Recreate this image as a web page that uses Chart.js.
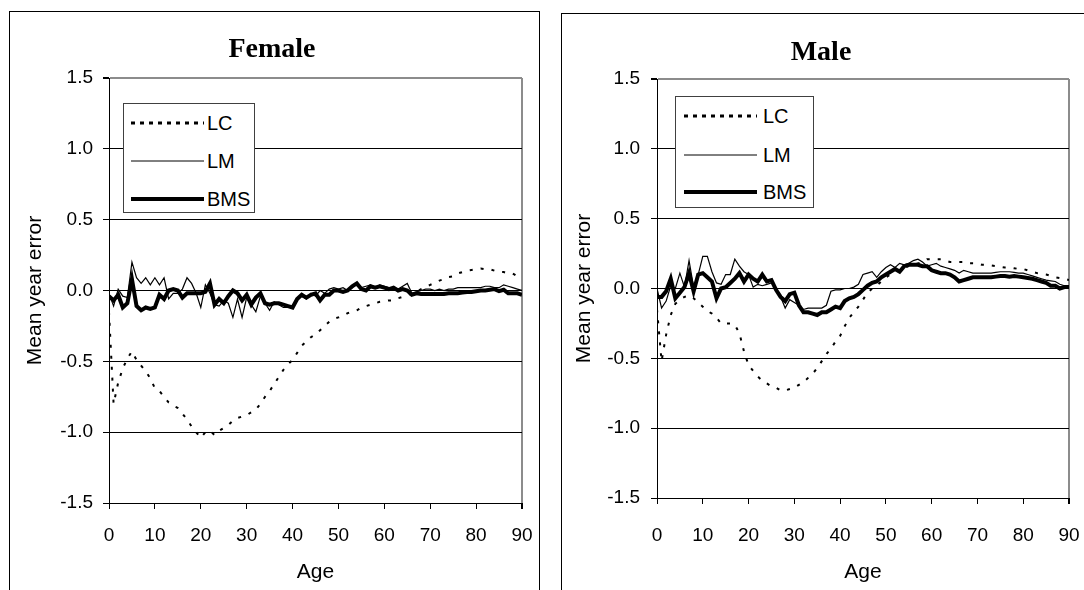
<!DOCTYPE html>
<html>
<head>
<meta charset="utf-8">
<title>Mean year error by age</title>
<script src="https://cdn.jsdelivr.net/npm/chart.js@4.4.1/dist/chart.umd.min.js"></script>
<style>
  html, body { margin: 0; padding: 0; background: #fff; }
  body {
    position: relative; width: 1084px; height: 590px; overflow: hidden;
    font-family: 'Liberation Sans', Arial, sans-serif; color: #000;
  }
  .panel { position: absolute; box-sizing: border-box; border: 1px solid #000; height: 660px; }
  .panel-title {
    position: absolute; transform: translate(-50%, -50%); white-space: nowrap;
    font-family: 'Liberation Serif', 'Times New Roman', serif; font-weight: bold; font-size: 28px;
  }
  canvas { position: absolute; top: 0; }
  .legend { position: absolute; box-sizing: border-box; background: #fff; border: 1px solid #404040; }
  .legend svg { position: absolute; overflow: visible; }
  .legend span { position: absolute; font-size: 20px; line-height: 1; transform: translateY(-50%); }
</style>
</head>
<body>
<div class="panel" style="left:9px; top:11px; width:531px;"></div>
<div class="panel" style="left:561px; top:13px; width:600px;"></div>
<canvas id="chartFemale" width="545" height="590" style="left:0;"></canvas>
<canvas id="chartMale" width="539" height="590" style="left:545px;"></canvas>
<div class="panel-title" style="left:272px; top:48px;">Female</div>
<div class="panel-title" style="left:821px; top:51px;">Male</div>

<script>
(function () {
  'use strict';

  // ── Data ──
  var X_TICKS = [0, 10, 20, 30, 40, 50, 60, 70, 80, 90];
  var Y_TICKS = [-1.5, -1.0, -0.5, 0.0, 0.5, 1.0, 1.5];
  var AGES = [];
  for (var a = 0; a <= 90; a++) AGES.push(a);

  var FEMALE_LC = [
    -0.15, -0.80, -0.65, -0.55, -0.48, -0.43, -0.49, -0.53, -0.57, -0.62,
    -0.69, -0.71, -0.75, -0.79, -0.81, -0.83, -0.87, -0.91, -0.96, -1.00,
    -1.04, -1.00, -0.99, -1.02, -0.99, -0.97, -0.95, -0.92, -0.90, -0.89,
    -0.88, -0.86, -0.84, -0.80, -0.75, -0.71, -0.66, -0.61, -0.56, -0.52,
    -0.49, -0.44, -0.39, -0.36, -0.33, -0.31, -0.28, -0.25, -0.22, -0.20,
    -0.19, -0.18, -0.16, -0.15, -0.14, -0.12, -0.11, -0.10, -0.09, -0.08,
    -0.075, -0.07, -0.07, -0.055, -0.045, -0.035, -0.02, -0.01, 0.01, 0.025,
    0.04, 0.055, 0.07, 0.08, 0.095, 0.10, 0.12, 0.13, 0.14, 0.145,
    0.15, 0.155, 0.15, 0.15, 0.14, 0.13, 0.13, 0.12, 0.12, 0.10,
    0.08
  ];
  var FEMALE_LM = [
    -0.02, -0.11, 0.01, -0.04, -0.05, 0.20, 0.09, 0.05, 0.09, 0.04,
    0.09, 0.04, 0.09, -0.06, -0.02, -0.02, 0.01, 0.09, 0.05, -0.02,
    -0.12, 0.04, -0.02, -0.10, -0.11, -0.07, -0.09, -0.19, -0.06, -0.19,
    -0.05, -0.10, -0.15, -0.04, -0.09, -0.14, -0.08, -0.10, -0.12, -0.12,
    -0.11, -0.06, -0.04, -0.06, -0.02, -0.04, 0.00, -0.02, 0.01, 0.02,
    0.01, 0.02, 0.00, 0.02, 0.05, 0.02, 0.03, 0.04, 0.02, 0.04,
    0.03, 0.02, 0.02, 0.01, 0.03, 0.05, -0.02, -0.01, 0.00, 0.01,
    0.01, 0.00, 0.01, 0.00, 0.01, 0.01, 0.02, 0.02, 0.02, 0.02,
    0.02, 0.02, 0.03, 0.03, 0.02, 0.02, 0.04, 0.03, 0.02, 0.01,
    0.00
  ];
  var FEMALE_BMS = [
    -0.04, -0.07, -0.03, -0.12, -0.09, 0.08, -0.11, -0.14, -0.12, -0.13,
    -0.12, -0.03, -0.06, 0.00, 0.01, 0.00, -0.05, -0.02, -0.02, -0.02,
    -0.02, -0.01, 0.05, -0.10, -0.06, -0.09, -0.04, 0.00, -0.02, -0.07,
    -0.03, -0.10, -0.05, -0.02, -0.09, -0.10, -0.09, -0.09, -0.10, -0.11,
    -0.12, -0.06, -0.03, -0.05, -0.03, -0.02, -0.07, -0.03, -0.03, 0.00,
    0.00, -0.01, 0.00, 0.03, 0.05, 0.01, 0.00, 0.03, 0.02, 0.03,
    0.02, 0.01, 0.02, 0.00, 0.01, 0.00, -0.03, -0.02, -0.025, -0.025,
    -0.025, -0.025, -0.025, -0.025, -0.02, -0.02, -0.02, -0.015, -0.01, -0.01,
    -0.005, 0.00, 0.00, 0.005, 0.01, -0.005, 0.005, -0.02, -0.02, -0.02,
    -0.03
  ];

  var MALE_LC = [
    -0.15, -0.52, -0.33, -0.19, -0.11, -0.08, -0.06, -0.05, -0.07, -0.10,
    -0.13, -0.16, -0.18, -0.21, -0.25, -0.25, -0.25, -0.26, -0.32, -0.45,
    -0.55, -0.59, -0.63, -0.66, -0.68, -0.70, -0.71, -0.73, -0.73, -0.72,
    -0.71, -0.69, -0.67, -0.64, -0.61, -0.57, -0.52, -0.47, -0.43, -0.38,
    -0.34, -0.27, -0.21, -0.17, -0.13, -0.08, -0.03, 0.00, 0.02, 0.05,
    0.08, 0.10, 0.12, 0.14, 0.15, 0.16, 0.17, 0.18, 0.19, 0.21,
    0.21, 0.21, 0.21, 0.20, 0.19, 0.19, 0.19, 0.19, 0.18, 0.18,
    0.18, 0.17, 0.17, 0.165, 0.16, 0.155, 0.15, 0.15, 0.145, 0.14,
    0.14, 0.13, 0.12, 0.11, 0.105, 0.10, 0.09, 0.08, 0.075, 0.07,
    0.06
  ];
  var MALE_LM = [
    0.00, -0.14, -0.09, 0.02, 0.00, 0.11, 0.01, 0.20, 0.01, 0.10,
    0.23, 0.23, 0.12, 0.04, 0.03, 0.10, 0.10, 0.21, 0.16, 0.12,
    0.10, 0.01, 0.03, 0.02, 0.03, 0.04, 0.00, -0.06, -0.14, -0.08,
    -0.10, -0.12, -0.15, -0.14, -0.14, -0.14, -0.14, -0.12, -0.02, -0.01,
    -0.01, 0.00, 0.00, 0.01, 0.03, 0.10, 0.11, 0.12, 0.08, 0.12,
    0.15, 0.17, 0.15, 0.18, 0.17, 0.18, 0.20, 0.21, 0.19, 0.16,
    0.17, 0.18, 0.16, 0.15, 0.14, 0.13, 0.11, 0.13, 0.12, 0.11,
    0.11, 0.11, 0.11, 0.11, 0.115, 0.12, 0.12, 0.12, 0.115, 0.11,
    0.11, 0.10, 0.09, 0.08, 0.07, 0.06, 0.055, 0.05, 0.03, 0.02,
    0.01
  ];
  var MALE_BMS = [
    -0.06, -0.06, -0.02, 0.07, -0.07, -0.03, 0.01, 0.11, -0.02, 0.10,
    0.11, 0.08, 0.05, -0.07, 0.00, 0.01, 0.04, 0.07, 0.11, 0.05,
    0.10, 0.07, 0.05, 0.10, 0.05, 0.06, -0.01, -0.06, -0.09, -0.04,
    -0.03, -0.12, -0.17, -0.17, -0.18, -0.19, -0.17, -0.17, -0.15, -0.13,
    -0.14, -0.09, -0.07, -0.06, -0.04, -0.01, 0.02, 0.04, 0.05, 0.08,
    0.10, 0.12, 0.14, 0.12, 0.16, 0.17, 0.17, 0.17, 0.16, 0.16,
    0.13, 0.12, 0.11, 0.11, 0.10, 0.08, 0.05, 0.06, 0.07, 0.08,
    0.08, 0.08, 0.08, 0.08, 0.085, 0.09, 0.09, 0.085, 0.09, 0.085,
    0.08, 0.075, 0.07, 0.06, 0.05, 0.04, 0.02, 0.02, 0.00, 0.01,
    0.01
  ];

  // ── Series styles (shared by chart and legend) ──
  var SERIES = [
    { label: 'LC',  width: 2,   dash: [3, 8], legendDash: '4 5', legendWidth: 3 },
    { label: 'LM',  width: 1.2, dash: [],     legendDash: '',    legendWidth: 1 },
    { label: 'BMS', width: 4,   dash: [],     legendDash: '',    legendWidth: 4 }
  ];

  Chart.defaults.font.family = "'Liberation Sans', Arial, sans-serif";
  Chart.defaults.color = '#000';

  function toPoints(values) {
    var pts = [];
    for (var i = 0; i < AGES.length; i++) pts.push({ x: AGES[i], y: values[i] });
    return pts;
  }

  function tickSetter(list) {
    return function (scale) {
      scale.ticks = list.map(function (v) { return { value: v }; });
    };
  }

  // ── One panel = one Chart.js instance ──
  function mountPanel(p) {
    var datasets = SERIES.map(function (s, i) {
      return {
        label: s.label,
        data: toPoints(p.series[i]),
        borderColor: '#000',
        borderWidth: s.width,
        borderDash: s.dash,
        pointRadius: 0,
        tension: 0,
        fill: false,
        order: 3 - i
      };
    });

    new Chart(document.getElementById(p.canvasId).getContext('2d'), {
      type: 'line',
      data: { datasets: datasets },
      options: {
        responsive: false,
        animation: false,
        devicePixelRatio: 1,
        layout: { padding: { left: 0, top: p.top, right: p.right, bottom: 0 } },
        plugins: {
          legend: { display: false },
          tooltip: { enabled: false },
          title: { display: false }
        },
        scales: {
          x: {
            type: 'linear', min: 0, max: 90,
            afterBuildTicks: tickSetter(X_TICKS),
            afterFit: function (s) {
              // fixed axis box; label overhang stays inside the layout padding
              s.height = p.xAxisH;
              s.paddingLeft = 0;
              s.paddingRight = 0;
            },
            ticks: { font: { size: 19 }, padding: p.xTickPad, maxRotation: 0 },
            grid: {
              drawOnChartArea: true, drawTicks: true, tickLength: 6, tickColor: '#000',
              color: function (c) { return c.tick && c.tick.value === 90 ? '#8c8c8c' : 'rgba(0,0,0,0)'; },
              lineWidth: function (c) { return c.tick && c.tick.value === 90 ? 2 : 1; }
            },
            border: { color: '#000', width: 1 },
            title: { display: true, text: 'Age', font: { size: 21 }, padding: { bottom: 5 } }
          },
          y: {
            min: -1.5, max: 1.5,
            afterBuildTicks: tickSetter(Y_TICKS),
            afterFit: function (s) { s.width = p.yAxisW; },
            ticks: {
              font: { size: 19 }, padding: p.yTickPad,
              callback: function (v) { return Number(v).toFixed(1); }
            },
            grid: {
              drawTicks: true, tickLength: 6, tickColor: '#000',
              color: function (c) { return c.tick && c.tick.value === 1.5 ? '#8c8c8c' : '#000'; },
              lineWidth: function (c) { return c.tick && c.tick.value === 1.5 ? 2 : 1; }
            },
            border: { color: '#000', width: 1 },
            title: { display: true, text: 'Mean year error', font: { size: 21 }, padding: { top: p.yTitlePad } }
          }
        }
      }
    });

    buildLegend(p.legend);
  }

  // ── HTML legend box placed over the plot area ──
  function buildLegend(L) {
    var box = document.createElement('div');
    box.className = 'legend';
    box.style.left = L.left + 'px';
    box.style.top = L.top + 'px';
    box.style.width = L.width + 'px';
    box.style.height = L.height + 'px';

    SERIES.forEach(function (s, i) {
      var cy = L.rowY[i] - L.top;
      var len = L.lineX1 - L.lineX0;
      var svg = document.createElementNS('http://www.w3.org/2000/svg', 'svg');
      svg.setAttribute('width', len);
      svg.setAttribute('height', 10);
      svg.style.left = (L.lineX0 - L.left) + 'px';
      svg.style.top = (cy - 5) + 'px';
      var line = document.createElementNS('http://www.w3.org/2000/svg', 'line');
      line.setAttribute('x1', 0);
      line.setAttribute('x2', len);
      line.setAttribute('y1', 5);
      line.setAttribute('y2', 5);
      line.setAttribute('stroke', '#000');
      line.setAttribute('stroke-width', s.legendWidth);
      if (s.legendDash) line.setAttribute('stroke-dasharray', s.legendDash);
      svg.appendChild(line);
      box.appendChild(svg);

      var txt = document.createElement('span');
      txt.textContent = s.label;
      txt.style.left = (L.textX - L.left) + 'px';
      txt.style.top = cy + 'px';
      box.appendChild(txt);
    });

    document.body.appendChild(box);
  }

  mountPanel({
    canvasId: 'chartFemale',
    series: [FEMALE_LC, FEMALE_LM, FEMALE_BMS],
    top: 78, right: 23, yAxisW: 109, xAxisH: 87,
    xTickPad: 15, yTickPad: 10, yTitlePad: 23,
    legend: { left: 123, top: 103, width: 132, height: 110, rowY: [122, 160, 198], lineX0: 130, lineX1: 203, textX: 206 }
  });

  mountPanel({
    canvasId: 'chartMale',
    series: [MALE_LC, MALE_LM, MALE_BMS],
    top: 79, right: 15, yAxisW: 112, xAxisH: 92,
    xTickPad: 20, yTickPad: 11, yTitlePad: 27,
    legend: { left: 675, top: 96, width: 139, height: 112, rowY: [115, 154, 191], lineX0: 683, lineX1: 756, textX: 762 }
  });
})();
</script>
</body>
</html>
